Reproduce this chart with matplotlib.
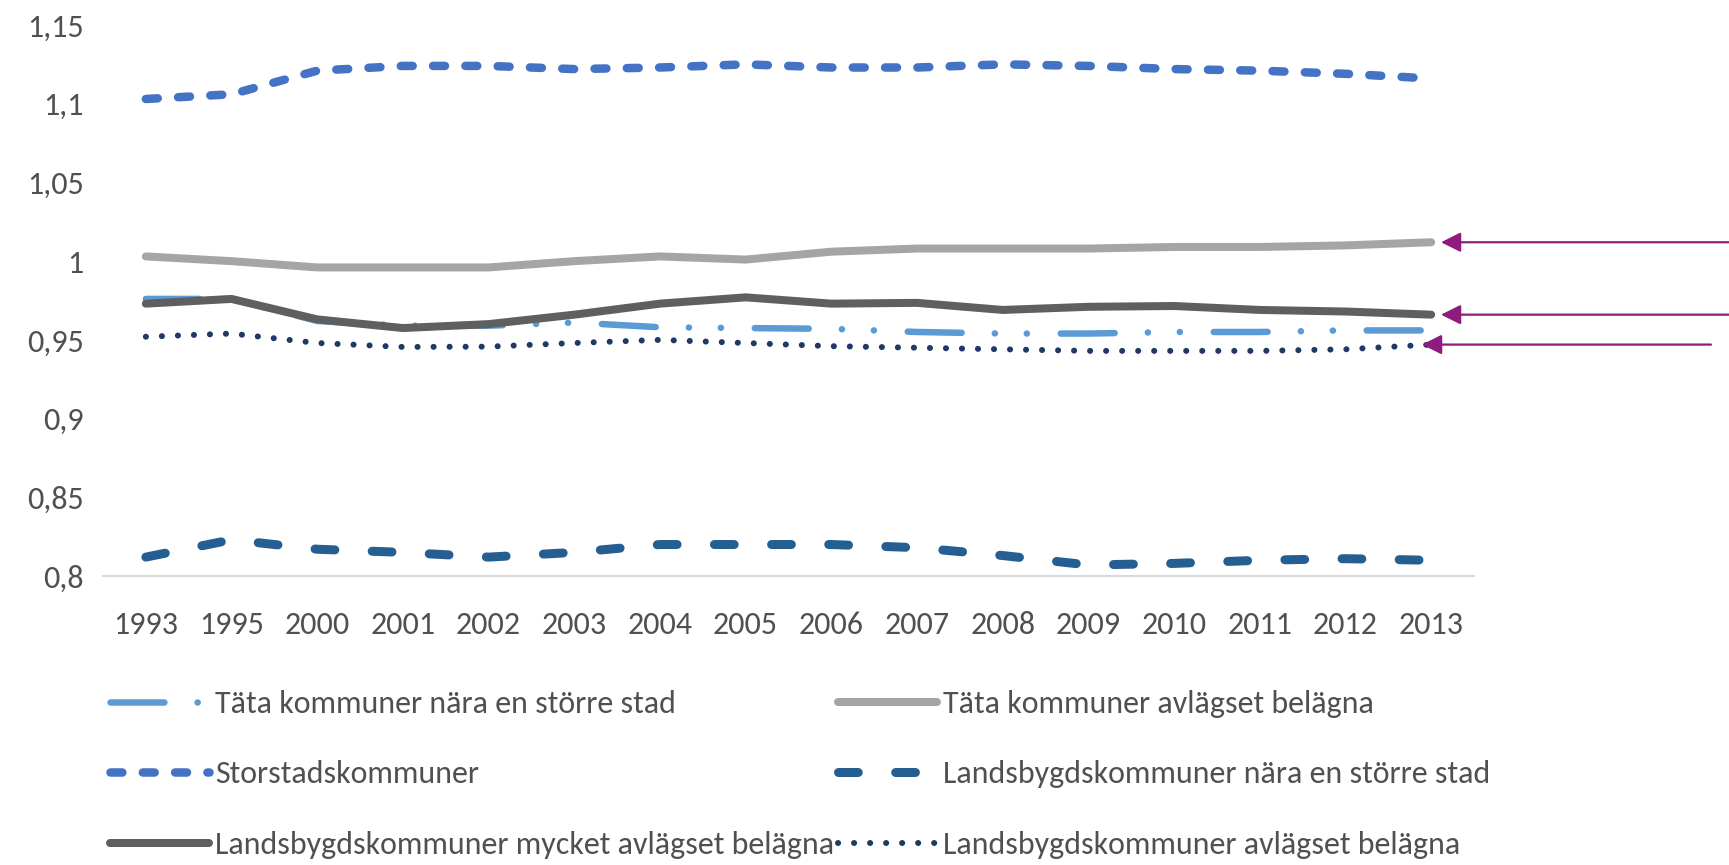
import matplotlib
matplotlib.use("Agg")
import matplotlib.pyplot as plt
from matplotlib import font_manager as fm

# ---------------- data ----------------
years = ["1993", "1995", "2000", "2001", "2002", "2003", "2004", "2005",
         "2006", "2007", "2008", "2009", "2010", "2011", "2012", "2013"]

tata_nara = [0.976, 0.976, 0.962, 0.959, 0.959, 0.961, 0.958, 0.9575,
             0.957, 0.955, 0.954, 0.954, 0.955, 0.955, 0.956, 0.956]
tata_avlagset = [1.003, 1.000, 0.996, 0.996, 0.996, 1.000, 1.003, 1.001,
                 1.006, 1.008, 1.008, 1.008, 1.009, 1.009, 1.010, 1.012]
storstad = [1.103, 1.106, 1.121, 1.124, 1.124, 1.122, 1.123, 1.125,
            1.123, 1.123, 1.125, 1.124, 1.122, 1.121, 1.119, 1.116]
lands_nara = [0.812, 0.823, 0.817, 0.815, 0.812, 0.815, 0.820, 0.820,
              0.820, 0.818, 0.813, 0.807, 0.808, 0.810, 0.811, 0.810]
lands_mycket = [0.973, 0.976, 0.963, 0.9575, 0.960, 0.966, 0.973, 0.977,
                0.973, 0.9735, 0.969, 0.971, 0.9715, 0.969, 0.968, 0.966]
lands_avlagset = [0.952, 0.954, 0.948, 0.9455, 0.9457, 0.948, 0.950, 0.948,
                  0.946, 0.945, 0.944, 0.943, 0.943, 0.943, 0.944, 0.947]

yticks = [0.8, 0.85, 0.9, 0.95, 1.0, 1.05, 1.1, 1.15]
ytick_labels = ["0,8", "0,85", "0,9", "0,95", "1", "1,05", "1,1", "1,15"]

labels = {
    "tata_nara": "Täta kommuner nära en större stad",
    "tata_avlagset": "Täta kommuner avlägset belägna",
    "storstad": "Storstadskommuner",
    "lands_nara": "Landsbygdskommuner nära en större stad",
    "lands_mycket": "Landsbygdskommuner mycket avlägset belägna",
    "lands_avlagset": "Landsbygdskommuner avlägset belägna",
}

# ---------------- fonts ----------------
avail = {f.name for f in fm.fontManager.ttflist}
font = "DejaVu Sans"
for cand in ["Carlito", "Liberation Sans Narrow", "Open Sans", "Lato"]:
    if cand in avail:
        font = cand
        break
plt.rcParams["font.family"] = [font, "DejaVu Sans"]

TXT = "#505050"
FS = 23
W, H = 1729, 865
fig = plt.figure(figsize=(W / 100, H / 100), dpi=100)
ax = fig.add_axes([103 / W, 1 - 576 / H, (1474 - 103) / W, (576 - 25) / H])

x = list(range(len(years)))
px = 72 / 100  # points per pixel

common = dict(solid_capstyle="round", dash_capstyle="round",
              solid_joinstyle="round", dash_joinstyle="round")

l_dot, = ax.plot(x, lands_avlagset, color="#1F3864", lw=6 * px,
                 dashes=(0.02, 2.65), **common)
l_tn, = ax.plot(x, tata_nara, color="#5B9BD5", lw=6.5 * px,
                dashes=(8.3, 5.1, 0.02, 4.9, 0.02, 5.2), **common)
l_lm, = ax.plot(x, lands_mycket, color="#5F5F5F", lw=8 * px, **common)
l_ta, = ax.plot(x, tata_avlagset, color="#A5A5A5", lw=8 * px, **common)
l_st, = ax.plot(x, storstad, color="#4472C4", lw=8.5 * px,
                dashes=(1.4, 2.4), **common)
l_ln, = ax.plot(x, lands_nara, color="#255E91", lw=9 * px,
                dashes=(2.2, 4.15), **common)

ax.set_xlim(-0.5, len(years) - 0.5)
ax.set_ylim(0.8, 1.15)
ax.set_xticks(x)
ax.set_xticklabels(years)
ax.set_yticks(yticks)
ax.set_yticklabels(ytick_labels)
for s in ["top", "right", "left"]:
    ax.spines[s].set_visible(False)
ax.spines["bottom"].set_color("#D9D9D9")
ax.spines["bottom"].set_linewidth(2 * px)
ax.tick_params(axis="both", length=0, labelsize=FS, colors=TXT)
ax.tick_params(axis="x", pad=25)
ax.tick_params(axis="y", pad=14)

# ---------------- legend (two columns) ----------------
leg_kw = dict(frameon=False, fontsize=FS, labelcolor=TXT, handlelength=3.1,
              handletextpad=0.2, labelspacing=1.33, borderpad=0,
              borderaxespad=0, loc="upper left")
leg1 = fig.legend([l_tn, l_st, l_lm],
                  [labels["tata_nara"], labels["storstad"], labels["lands_mycket"]],
                  bbox_to_anchor=(110 / W, 1 - 690 / H), **leg_kw)
leg2 = fig.legend([l_ta, l_ln, l_dot],
                  [labels["tata_avlagset"], labels["lands_nara"], labels["lands_avlagset"]],
                  bbox_to_anchor=(838 / W, 1 - 690 / H), **leg_kw)

# ---------------- arrows ----------------
arrow_col = "#8E1C7E"
arrows = [(tata_avlagset[-1], 1441 / W, 1.0),
          (lands_mycket[-1], 1441 / W, 1.0),
          (lands_avlagset[-1], 1422 / W, 1711 / W)]
for yv, xtip, xtail in arrows:
    ax.annotate("", xy=(xtip, yv), xycoords=("figure fraction", "data"),
                xytext=(xtail, yv), textcoords=("figure fraction", "data"),
                arrowprops=dict(arrowstyle="-|>,head_length=0.6,head_width=0.3",
                                mutation_scale=20, color=arrow_col, lw=1.6,
                                shrinkA=0, shrinkB=0),
                annotation_clip=False)

fig.savefig("out.png", dpi=100)
